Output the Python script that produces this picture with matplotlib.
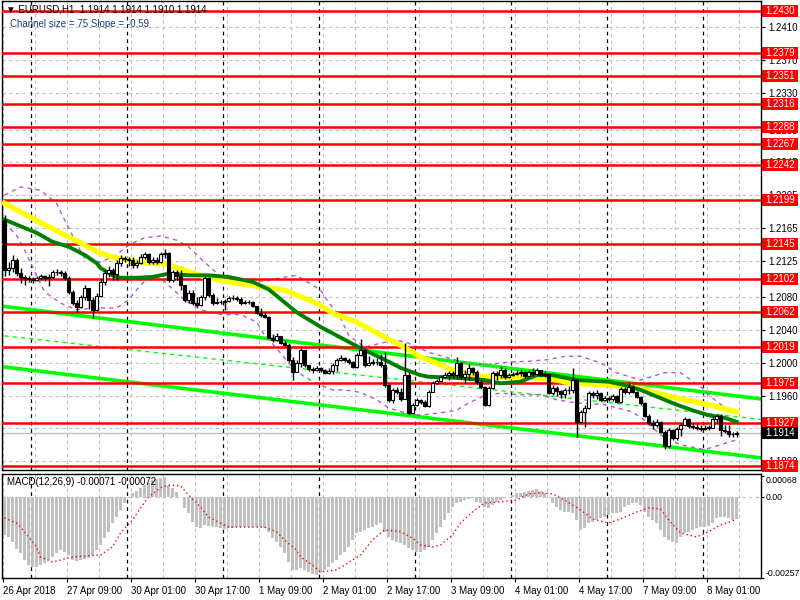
import matplotlib
matplotlib.use("Agg")
import matplotlib.pyplot as plt
from matplotlib.patches import Rectangle
import numpy as np

plt.rcParams['font.family'] = ['Liberation Sans', 'DejaVu Sans']

# EURUSD H1, 26 Apr 2018 17:00 .. 8 May 2018 08:00 (one entry per bar)
first_open = 1.2175
closes = [
    1.2113, 1.2116, 1.2126, 1.2110, 1.2105, 1.2104, 1.2102, 1.2101, 1.2104, 1.2106,
    1.2104, 1.2105, 1.2111, 1.2111, 1.2110, 1.2104, 1.2087, 1.2073, 1.2068, 1.2080,
    1.2091, 1.2077, 1.2065, 1.2082, 1.2099, 1.2110, 1.2113, 1.2109, 1.2122, 1.2128,
    1.2127, 1.2126, 1.2120, 1.2122, 1.2129, 1.2133, 1.2123, 1.2126, 1.2123, 1.2133,
    1.2134, 1.2101, 1.2111, 1.2106, 1.2095, 1.2077, 1.2085, 1.2073, 1.2071, 1.2080,
    1.2104, 1.2083, 1.2073, 1.2074, 1.2074, 1.2076, 1.2079, 1.2079, 1.2078, 1.2073,
    1.2074, 1.2074, 1.2069, 1.2061, 1.2059, 1.2056, 1.2031, 1.2028, 1.2033, 1.2024,
    1.2022, 1.2004, 1.1989, 1.2000, 1.2016, 1.1997, 1.1993, 1.1991, 1.1994, 1.1991,
    1.1988, 1.1990, 1.1997, 1.2004, 1.2006, 1.2004, 1.2001, 1.1995, 1.2010, 1.2016,
    1.1997, 1.2000, 1.2001, 1.2001, 1.1997, 1.1973, 1.1955, 1.1967, 1.1964, 1.1956,
    1.1985, 1.1939, 1.1949, 1.1955, 1.1952, 1.1947, 1.1964, 1.1975, 1.1978, 1.1983,
    1.1985, 1.1988, 1.1985, 1.2000, 1.1983, 1.1986, 1.1994, 1.1989, 1.1977, 1.1971,
    1.1949, 1.1969, 1.1988, 1.1985, 1.1991, 1.1983, 1.1985, 1.1986, 1.1988, 1.1989,
    1.1984, 1.1989, 1.1986, 1.1991, 1.1985, 1.1986, 1.1963, 1.1969, 1.1966, 1.1962,
    1.1967, 1.1967, 1.1979, 1.1928, 1.1940, 1.1945, 1.1963, 1.1961, 1.1963, 1.1955,
    1.1957, 1.1956, 1.1960, 1.1952, 1.1968, 1.1964, 1.1971, 1.1964, 1.1958, 1.1951,
    1.1935, 1.1927, 1.1924, 1.1928, 1.1916, 1.1898, 1.1918, 1.1908, 1.1919, 1.1924,
    1.1932, 1.1923, 1.1922, 1.1921, 1.1919, 1.1921, 1.1921, 1.1932, 1.1935, 1.1918,
    1.1917, 1.1913, 1.1913, 1.1914,
]
highs = [
    1.2181, 1.2123, 1.2132, 1.2128, 1.2116, 1.2107, 1.2106, 1.2105, 1.2106, 1.2109,
    1.2107, 1.2109, 1.2113, 1.2115, 1.2113, 1.2112, 1.2106, 1.2089, 1.2077, 1.2083,
    1.2095, 1.2092, 1.2080, 1.2085, 1.2102, 1.2113, 1.2118, 1.2116, 1.2126, 1.2132,
    1.2131, 1.2129, 1.2129, 1.2126, 1.2133, 1.2136, 1.2134, 1.2129, 1.2129, 1.2136,
    1.2139, 1.2136, 1.2113, 1.2113, 1.2113, 1.2095, 1.2089, 1.2089, 1.2080, 1.2083,
    1.2106, 1.2105, 1.2085, 1.2079, 1.2077, 1.2078, 1.2082, 1.2083, 1.2082, 1.2080,
    1.2077, 1.2077, 1.2076, 1.2069, 1.2067, 1.2062, 1.2057, 1.2035, 1.2036, 1.2033,
    1.2028, 1.2024, 1.2007, 1.2004, 1.2018, 1.2016, 1.1997, 1.1995, 1.1996, 1.1995,
    1.1993, 1.1994, 1.2000, 1.2006, 1.2010, 1.2007, 1.2006, 1.2002, 1.2012, 1.2029,
    1.2017, 1.2008, 1.2005, 1.2006, 1.2011, 1.2013, 1.1974, 1.1969, 1.1971, 1.1969,
    1.2024, 1.1989, 1.1951, 1.1957, 1.1956, 1.1955, 1.1967, 1.1978, 1.1980, 1.1985,
    1.1989, 1.1990, 1.1990, 1.2007, 1.2001, 1.1991, 1.1999, 1.1995, 1.1991, 1.1980,
    1.1972, 1.1972, 1.1990, 1.1990, 1.1996, 1.1994, 1.1988, 1.1989, 1.1991, 1.1993,
    1.1990, 1.1991, 1.1994, 1.1994, 1.1991, 1.1990, 1.1987, 1.1973, 1.1972, 1.1967,
    1.1969, 1.1972, 1.1994, 1.1980, 1.1942, 1.1949, 1.1966, 1.1966, 1.1967, 1.1964,
    1.1960, 1.1960, 1.1962, 1.1961, 1.1971, 1.1971, 1.1975, 1.1973, 1.1966, 1.1960,
    1.1952, 1.1938, 1.1930, 1.1932, 1.1929, 1.1918, 1.1921, 1.1919, 1.1922, 1.1927,
    1.1934, 1.1933, 1.1927, 1.1925, 1.1924, 1.1924, 1.1924, 1.1935, 1.1938, 1.1938,
    1.1924, 1.1924, 1.1916, 1.1917,
]
lows = [
    1.2106, 1.2107, 1.2111, 1.2106, 1.2098, 1.2095, 1.2099, 1.2098, 1.2100, 1.2101,
    1.2100, 1.2094, 1.2104, 1.2107, 1.2106, 1.2101, 1.2084, 1.2071, 1.2062, 1.2067,
    1.2077, 1.2066, 1.2055, 1.2065, 1.2080, 1.2095, 1.2105, 1.2101, 1.2101, 1.2118,
    1.2123, 1.2118, 1.2116, 1.2116, 1.2121, 1.2127, 1.2121, 1.2121, 1.2121, 1.2122,
    1.2128, 1.2099, 1.2099, 1.2101, 1.2089, 1.2074, 1.2073, 1.2071, 1.2068, 1.2069,
    1.2077, 1.2080, 1.2071, 1.2072, 1.2072, 1.2065, 1.2074, 1.2077, 1.2076, 1.2071,
    1.2072, 1.2072, 1.2068, 1.2060, 1.2056, 1.2055, 1.2030, 1.2025, 1.2027, 1.2023,
    1.2021, 1.2001, 1.1979, 1.1989, 1.1995, 1.1995, 1.1990, 1.1988, 1.1990, 1.1989,
    1.1986, 1.1986, 1.1986, 1.1990, 1.2002, 1.2001, 1.1999, 1.1994, 1.1994, 1.2008,
    1.1995, 1.1997, 1.1997, 1.1997, 1.1995, 1.1971, 1.1952, 1.1951, 1.1962, 1.1953,
    1.1956, 1.1938, 1.1938, 1.1947, 1.1950, 1.1946, 1.1946, 1.1964, 1.1974, 1.1977,
    1.1982, 1.1979, 1.1982, 1.1982, 1.1980, 1.1975, 1.1979, 1.1985, 1.1974, 1.1968,
    1.1947, 1.1947, 1.1968, 1.1979, 1.1982, 1.1980, 1.1982, 1.1984, 1.1985, 1.1984,
    1.1982, 1.1985, 1.1984, 1.1985, 1.1984, 1.1983, 1.1962, 1.1961, 1.1960, 1.1957,
    1.1957, 1.1962, 1.1963, 1.1910, 1.1927, 1.1922, 1.1944, 1.1957, 1.1956, 1.1953,
    1.1953, 1.1953, 1.1953, 1.1951, 1.1951, 1.1962, 1.1962, 1.1963, 1.1957, 1.1949,
    1.1934, 1.1924, 1.1919, 1.1922, 1.1914, 1.1895, 1.1896, 1.1906, 1.1906, 1.1911,
    1.1923, 1.1921, 1.1919, 1.1918, 1.1917, 1.1918, 1.1918, 1.1921, 1.1927, 1.1911,
    1.1914, 1.1910, 1.1910, 1.1910,
]
opens = [first_open] + closes[:-1]

# moving averages (bar index, price)
slow_ma_idx = [0, 8, 16, 20, 24, 28, 34, 40, 44, 50, 56, 64, 70, 78, 82, 88, 96, 100,
               104, 108, 112, 116, 120, 124, 128, 132, 137, 142, 151, 156, 160, 168, 176, 183]
slow_ma = [1.2195, 1.2174, 1.2154, 1.2144, 1.2134, 1.2128, 1.2123, 1.2121, 1.2115, 1.2105,
           1.2099, 1.2093, 1.2089, 1.2073, 1.2061, 1.2050, 1.2029, 1.2019, 1.2007, 1.2000,
           1.1991, 1.1986, 1.1983, 1.1983, 1.1983, 1.1982, 1.1980, 1.1975, 1.1973, 1.1971,
           1.1967, 1.1957, 1.1949, 1.1940]
fast_ma_idx = [0, 8, 12, 16, 20, 23, 24, 27, 29, 33, 37, 41, 46, 51, 56, 62, 66, 73, 79,
               84, 89, 95, 99, 104, 106, 112, 120, 124, 129, 133, 137, 143, 151, 155, 159,
               164, 168, 172, 176, 180, 183]
fast_ma = [1.2175, 1.2159, 1.2148, 1.2142, 1.2132, 1.2122, 1.2116, 1.2107, 1.2104, 1.2104,
           1.2105, 1.2109, 1.2107, 1.2107, 1.2105, 1.2099, 1.2090, 1.2062, 1.2044, 1.2031,
           1.2018, 1.2004, 1.1994, 1.1985, 1.1983, 1.1982, 1.1979, 1.1975, 1.1977, 1.1985,
           1.1985, 1.1979, 1.1977, 1.1973, 1.1967, 1.1957, 1.1949, 1.1942, 1.1936, 1.1933,
           1.1928]

# envelope bands (dashed violet)
band_up_idx = [0, 4, 9, 13, 15, 18, 20, 24, 28, 31, 35, 39, 43, 46, 50, 54, 58, 61, 65,
               69, 73, 76, 79, 81, 84, 86, 90, 94, 98, 101, 106, 111, 116, 121, 126, 131,
               136, 140, 144, 149, 153, 159, 165, 169, 174, 177, 181]
band_up = [1.2205, 1.2215, 1.2211, 1.2195, 1.2175, 1.2146, 1.2128, 1.2123, 1.2132, 1.2144,
           1.2153, 1.2155, 1.2150, 1.2142, 1.2123, 1.2106, 1.2099, 1.2099, 1.2100, 1.2104,
           1.2107, 1.2098, 1.2089, 1.2074, 1.2055, 1.2034, 1.2019, 1.2024, 1.2028, 1.2024,
           1.2013, 1.2006, 1.1999, 1.1998, 1.2001, 1.2002, 1.2004, 1.2008, 1.2008, 1.2000,
           1.1988, 1.1979, 1.1988, 1.1988, 1.1971, 1.1957, 1.1942]
band_dn_idx = [0, 3, 5, 8, 10, 14, 18, 23, 28, 31, 34, 36, 39, 41, 45, 49, 54, 59, 63,
               65, 68, 72, 75, 78, 82, 85, 89, 93, 96, 100, 104, 109, 113, 116, 120, 124,
               129, 134, 138, 143, 150, 157, 160, 164, 169, 175, 179, 183]
band_dn = [1.2171, 1.2156, 1.2138, 1.2107, 1.2087, 1.2073, 1.2065, 1.2067, 1.2067, 1.2077,
           1.2095, 1.2104, 1.2104, 1.2095, 1.2077, 1.2065, 1.2059, 1.2059, 1.2050, 1.2034,
           1.2018, 1.1994, 1.1983, 1.1975, 1.1967, 1.1967, 1.1964, 1.1955, 1.1945, 1.1939,
           1.1936, 1.1939, 1.1942, 1.1951, 1.1960, 1.1963, 1.1961, 1.1961, 1.1955, 1.1951,
           1.1949, 1.1940, 1.1930, 1.1912, 1.1900, 1.1894, 1.1900, 1.1906]

# regression channel end points
channel_idx = [0, 189]
channel_upper = [1.2069, 1.1956]
channel_mid = [1.2033, 1.1931]
channel_lower = [1.1995, 1.1884]

levels = [1.2430, 1.2379, 1.2351, 1.2316, 1.2288, 1.2267, 1.2242, 1.2199, 1.2145,
          1.2102, 1.2062, 1.2019, 1.1975, 1.1927, 1.1874]
bid = 1.1914
price_ticks = [1.2410, 1.2370, 1.2330, 1.2285, 1.2245, 1.2205, 1.2165, 1.2125,
               1.2080, 1.2040, 1.2000, 1.1960, 1.1920, 1.1880]

macd_hist = [
    -0.00121, -0.00127, -0.00143, -0.00166, -0.00178, -0.00201, -0.00217, -0.00223, -0.00223, -0.00217,
    -0.00210, -0.00201, -0.00191, -0.00178, -0.00169, -0.00175, -0.00185, -0.00201, -0.00204, -0.00201,
    -0.00197, -0.00194, -0.00185, -0.00169, -0.00153, -0.00131, -0.00111, -0.00083, -0.00064, -0.00041,
    -0.00019, -0.00003, 0.00013, 0.00019, 0.00029, 0.00038, 0.00045, 0.00054, 0.00057, 0.00061,
    0.00064, 0.00038, 0.00029, 0.00016, 0.00000, -0.00035, -0.00051, -0.00080, -0.00096, -0.00099,
    -0.00089, -0.00092, -0.00096, -0.00096, -0.00099, -0.00102, -0.00099, -0.00099, -0.00096, -0.00096,
    -0.00096, -0.00096, -0.00096, -0.00096, -0.00096, -0.00099, -0.00111, -0.00131, -0.00143, -0.00159,
    -0.00178, -0.00207, -0.00232, -0.00232, -0.00226, -0.00232, -0.00239, -0.00245, -0.00248, -0.00242,
    -0.00232, -0.00223, -0.00210, -0.00201, -0.00185, -0.00175, -0.00159, -0.00137, -0.00115, -0.00111,
    -0.00105, -0.00099, -0.00096, -0.00089, -0.00083, -0.00111, -0.00127, -0.00137, -0.00143, -0.00146,
    -0.00153, -0.00162, -0.00169, -0.00175, -0.00175, -0.00169, -0.00159, -0.00137, -0.00115, -0.00096,
    -0.00073, -0.00051, -0.00032, -0.00019, -0.00016, -0.00010, -0.00006, -0.00003, -0.00016, -0.00019,
    -0.00032, -0.00035, -0.00025, -0.00016, -0.00010, -0.00003, 0.00000, 0.00006, 0.00013, 0.00013,
    0.00016, 0.00019, 0.00022, 0.00025, 0.00019, 0.00013, 0.00000, -0.00019, -0.00032, -0.00041,
    -0.00048, -0.00048, -0.00051, -0.00073, -0.00105, -0.00099, -0.00083, -0.00080, -0.00073, -0.00067,
    -0.00064, -0.00057, -0.00051, -0.00051, -0.00048, -0.00032, -0.00025, -0.00019, -0.00019, -0.00025,
    -0.00048, -0.00064, -0.00073, -0.00083, -0.00105, -0.00127, -0.00137, -0.00143, -0.00146, -0.00127,
    -0.00115, -0.00111, -0.00105, -0.00099, -0.00096, -0.00096, -0.00092, -0.00083, -0.00067, -0.00064,
    -0.00064, -0.00067, -0.00073, -0.00071,
]
signal_idx = [0, 3, 5, 8, 9, 12, 14, 17, 20, 24, 27, 29, 32, 34, 36, 39, 41, 44, 46, 49,
              51, 54, 56, 59, 65, 68, 70, 73, 74, 77, 79, 83, 85, 89, 92, 95, 99, 102, 104,
              107, 109, 112, 114, 117, 120, 124, 128, 131, 134, 137, 140, 144, 147, 151,
              154, 158, 161, 164, 166, 169, 173, 176, 179, 183]
signal = [-0.00067, -0.00083, -0.00111, -0.00159, -0.00191, -0.00207, -0.00201, -0.00191,
          -0.00188, -0.00185, -0.00159, -0.00115, -0.00073, -0.00035, 0.00000, 0.00029,
          0.00038, 0.00035, 0.00006, -0.00032, -0.00064, -0.00083, -0.00096, -0.00096,
          -0.00096, -0.00111, -0.00137, -0.00169, -0.00191, -0.00217, -0.00239, -0.00232,
          -0.00217, -0.00185, -0.00137, -0.00105, -0.00111, -0.00131, -0.00153, -0.00159,
          -0.00153, -0.00121, -0.00083, -0.00048, -0.00019, -0.00016, -0.00010, 0.00010,
          0.00013, 0.00010, -0.00010, -0.00041, -0.00070, -0.00083, -0.00070, -0.00048,
          -0.00035, -0.00038, -0.00073, -0.00115, -0.00127, -0.00111, -0.00089, -0.00072]

time_labels = ["26 Apr 2018", "27 Apr 09:00", "30 Apr 01:00", "30 Apr 17:00", "1 May 09:00",
               "2 May 01:00", "2 May 17:00", "3 May 09:00", "4 May 01:00", "4 May 17:00",
               "7 May 09:00", "8 May 01:00"]
day_starts = [7, 31, 55, 79, 103, 127, 151, 175]

n = len(closes)
idx = np.arange(n)
fs = 7
grid_kw = dict(color='#C0C0C0', linestyle=(0, (3, 3)), linewidth=0.8, zorder=0)
sep_kw = dict(color='black', linestyle=(0, (3, 3)), linewidth=0.9, zorder=0.5)

fig = plt.figure(figsize=(8, 6), dpi=100)
ax = fig.add_axes([2 / 800, 1 - 470 / 600, 759 / 800, 469 / 600])
mx = fig.add_axes([2 / 800, 1 - 578 / 600, 759 / 800, 104 / 600])

# grid and day separators
for a in (ax, mx):
    for k in range(0, 190, 8):
        a.axvline(k - 0.4, **grid_kw)
    for d in day_starts:
        a.axvline(d - 0.4, **sep_kw)
for p in price_ticks:
    ax.axhline(p, **grid_kw)

# channel
ax.plot(channel_idx, channel_upper, color='#00FF00', lw=2.6, zorder=2)
ax.plot(channel_idx, channel_lower, color='#00FF00', lw=2.6, zorder=2)
ax.plot(channel_idx, channel_mid, color='#00FF00', lw=1, ls=(0, (3, 3)), zorder=2)

# levels
for lv in levels:
    ax.axhline(lv, color='#FF0000', lw=1.8, zorder=3)
ax.axhline(bid, color='#C0C0C0', lw=1, zorder=1)

# bands and MAs
ax.plot(band_up_idx, band_up, color='#B45AD2', lw=1, ls=(0, (3, 3)), zorder=2)
ax.plot(band_dn_idx, band_dn, color='#B45AD2', lw=1, ls=(0, (3, 3)), zorder=2)
ax.plot(slow_ma_idx, slow_ma, color='#FFFF00', lw=3.8, zorder=3.5)
ax.plot(fast_ma_idx, fast_ma, color='#008000', lw=2.8, zorder=3.6)

# candles
o = np.array(opens)
c = np.array(closes)
ax.vlines(idx, lows, highs, color='black', lw=1, zorder=4)
body_lo = np.minimum(o, c)
body_h = np.maximum(np.abs(c - o), 0.00002)
up = c >= o
ax.bar(idx[up], body_h[up], bottom=body_lo[up], width=0.75, color='white',
       edgecolor='black', linewidth=0.8, zorder=5)
ax.bar(idx[~up], body_h[~up], bottom=body_lo[~up], width=0.75, color='black',
       edgecolor='black', linewidth=0.8, zorder=5)

ax.set_xlim(-0.625, 189.125)
ax.set_ylim(1.18691, 1.24422)
ax.yaxis.tick_right()
ax.set_yticks(price_ticks)
ax.set_yticklabels(["%.4f" % p for p in price_ticks])
ax.tick_params(axis='y', labelsize=fs, length=3, pad=2, direction='out')
ax.set_xticks([])

# price tags on the right scale
ytr = ax.get_yaxis_transform()
box_h = 12 * (1.24422 - 1.18691) / 469
for lv, fc in [(lv, '#FF0000') for lv in levels] + [(bid, 'black')]:
    ax.add_patch(Rectangle((1.0013, lv - box_h / 2), 0.0474, box_h, transform=ytr,
                           fc=fc, ec='none', clip_on=False, zorder=9))
    ax.text(1.025, lv, "%.4f" % lv, transform=ytr, color='white', fontsize=fs,
            va='center', ha='center', zorder=10, clip_on=False)

ax.text(0.005, 0.981, "\u25BC EURUSD,H1  %.4f %.4f %.4f %.4f" % (closes[-1], closes[-1], lows[-1], closes[-1]),
        transform=ax.transAxes, fontsize=fs, va='center', ha='left', zorder=11)
ax.text(0.011, 0.951, "Channel size = 75 Slope = -0.59", transform=ax.transAxes,
        fontsize=fs, color='#1E3C78', va='center', ha='left', zorder=11)

# MACD
mx.axhline(0, **grid_kw)
mx.bar(idx, macd_hist, width=0.7, color='#C0C0C0', zorder=2)
mx.plot(signal_idx, signal, color='#FF0000', lw=1, ls=(0, (1, 2)), zorder=3)
mx.set_xlim(-0.625, 189.125)
mx.set_ylim(-0.00258, 0.00073)
mx.yaxis.tick_right()
mx.set_yticks([0.00068, 0.0, -0.00257])
mx.set_yticklabels(["0.00068", "0.00", "-0.00257"])
mx.tick_params(axis='y', labelsize=6.3, length=2, pad=1)
lbls = mx.get_yticklabels()
lbls[0].set_va('top')
lbls[2].set_va('bottom')
mx.text(0.006, 0.92, "MACD(12,26,9) %.5f %.5f" % (macd_hist[-1], signal[-1]),
        transform=mx.transAxes, fontsize=fs, va='center', ha='left')
mx.set_xticks(np.arange(0, 177, 16) - 0.4)
mx.set_xticklabels(time_labels, ha='left')
mx.tick_params(axis='x', labelsize=fs, length=3, pad=3)

for a in (ax, mx):
    for s in a.spines.values():
        s.set_color('black')
        s.set_linewidth(1)

fig.savefig("out.png", dpi=100)
